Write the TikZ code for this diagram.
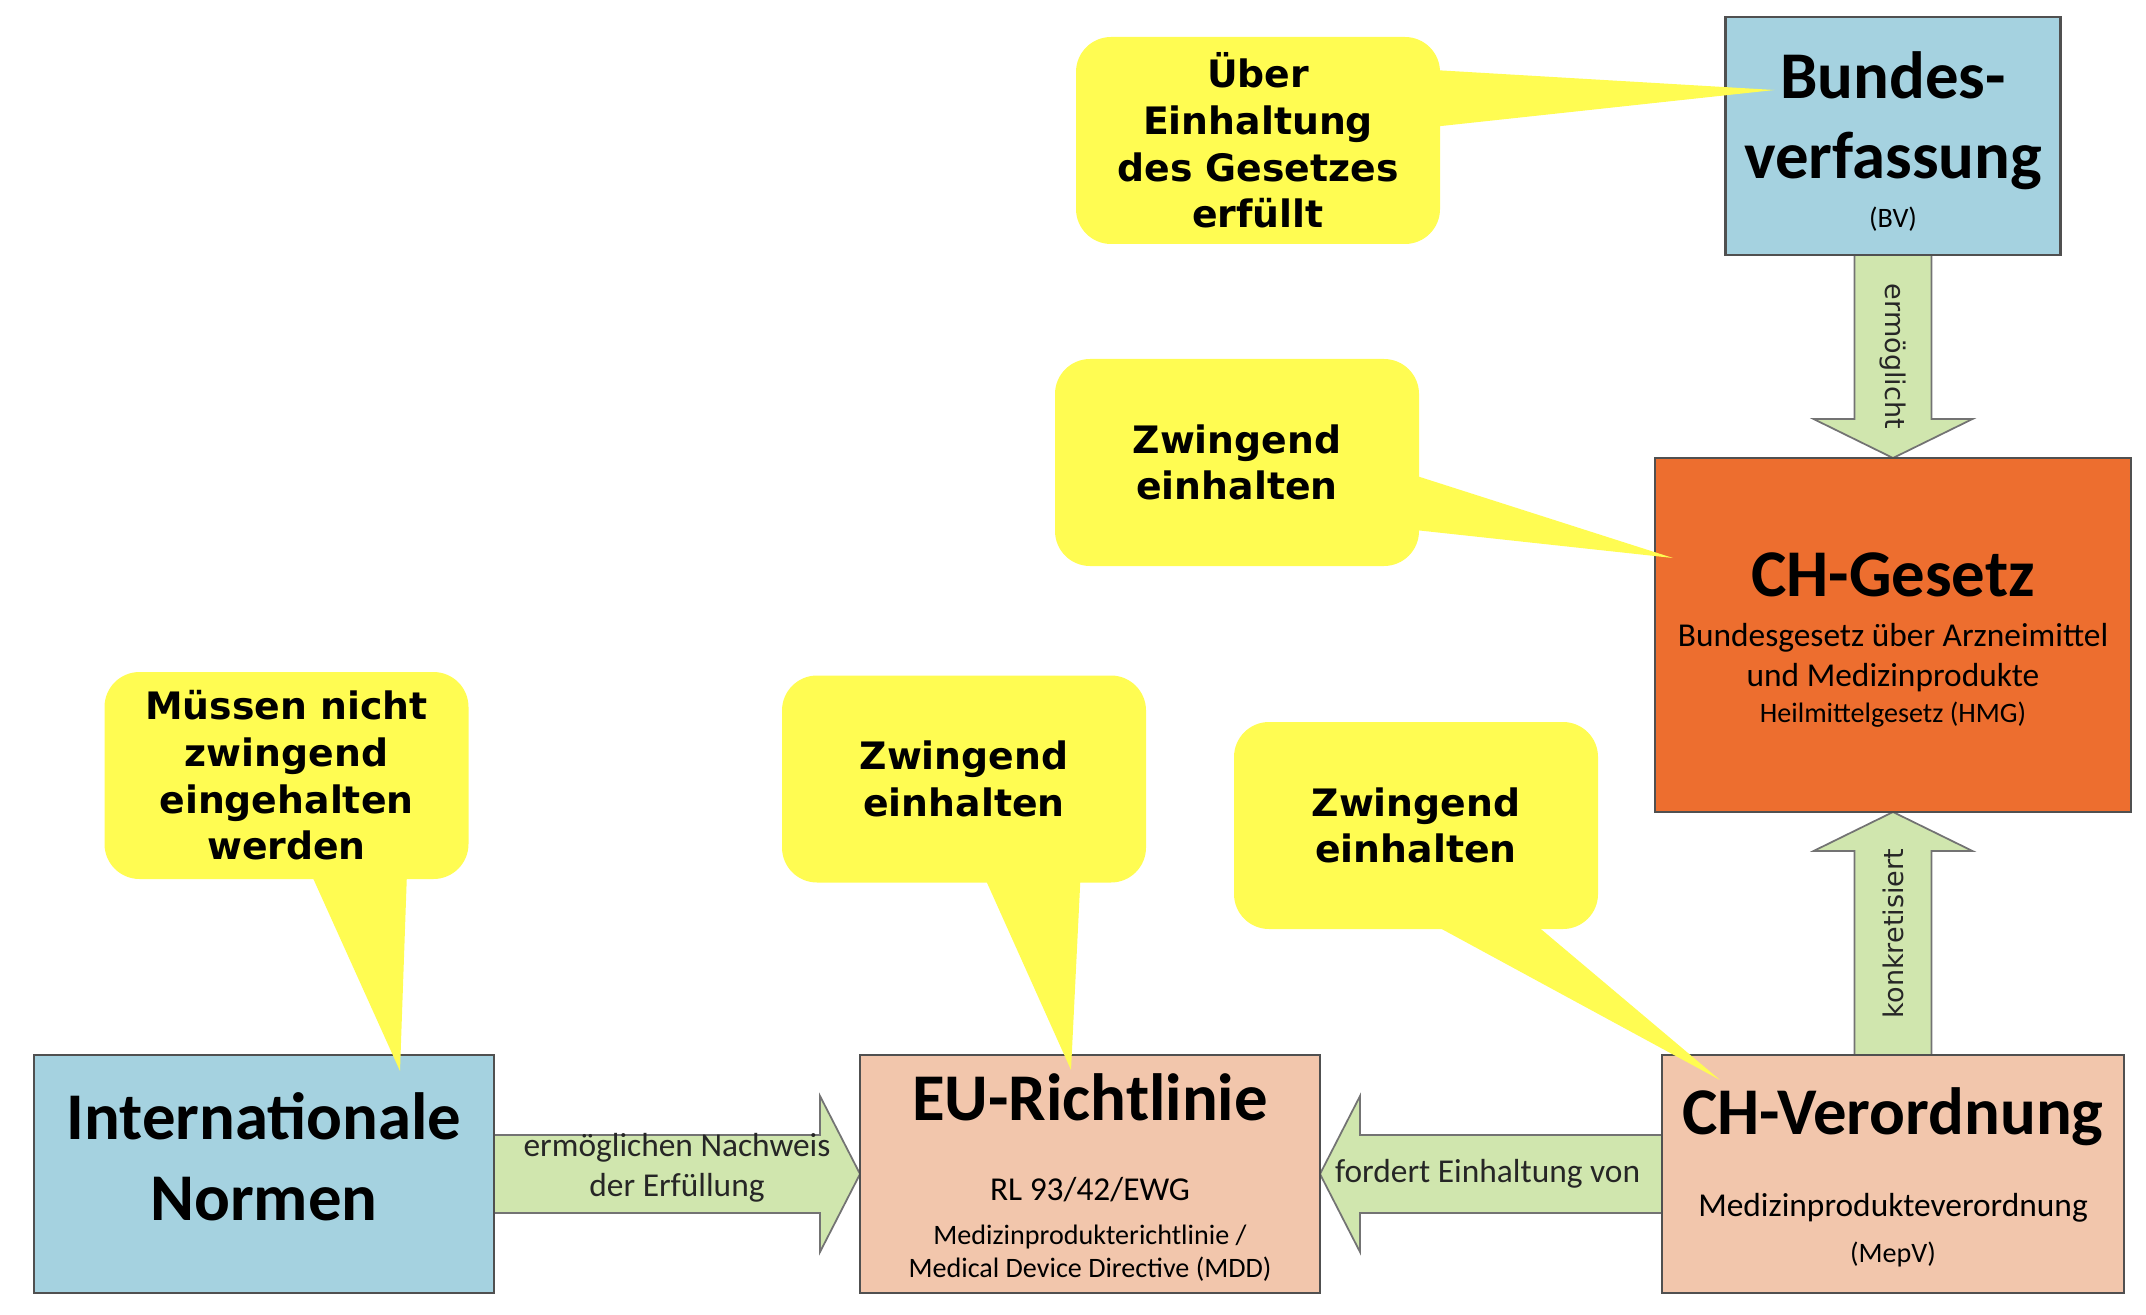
\documentclass[tikz,border=0pt]{standalone}
\usepackage{fontspec}
\setmainfont{Carlito}
\newfontfamily\bubblefont{DejaVu Sans}
\usetikzlibrary{positioning, calc, backgrounds}
\definecolor{normblue}{RGB}{165,210,224}
\definecolor{lawred}{RGB}{237,110,47}
\definecolor{rulepeach}{RGB}{242,198,172}
\definecolor{arrowgreen}{RGB}{208,230,174}
\definecolor{arrowline}{RGB}{115,115,115}
\definecolor{bubbleyellow}{RGB}{255,252,82}
\definecolor{framegray}{RGB}{80,80,80}
\newcommand{\tightlines}{\fontsize{8}{0}\selectfont\lineskiplimit=-100pt\relax}
\newcommand{\normtitle}{\fontsize{19}{23}\selectfont\bfseries}
\newcommand{\normsub}{\fontsize{9.5}{11.3}\selectfont\mdseries}
\newcommand{\normsmall}{\fontsize{8}{10.2}\selectfont\mdseries}
\newcommand{\linetop}[1][20pt]{\rule{0pt}{#1}}
\newcommand{\linebottom}[1]{\rule[-#1]{0pt}{0pt}}
\tikzstyle{box} = [draw=framegray, line width=0.8pt, rectangle, outer sep=0pt, inner sep=0pt, align=center, font=\tightlines]
\tikzstyle{bubble} = [fill=bubbleyellow, rectangle, rounded corners=0.35cm, minimum width=3.64cm, minimum height=2.07cm, align=center, font=\bubblefont\bfseries\fontsize{10.75}{13.3}\selectfont]
\tikzstyle{pointer} = [fill=bubbleyellow]
\tikzstyle{bigarrow} = [draw=arrowline, fill=arrowgreen, line width=0.5pt]
\tikzstyle{arrowtext} = [font=\fontsize{9.5}{11.3}\selectfont, text=black!85, align=center]
\tikzstyle{sidetext} = [font=\bubblefont\fontsize{7.7}{9}\selectfont, text=black!85]

\begin{document}
\begin{tikzpicture}
	\useasboundingbox (0,0) rectangle (21.46,-13.14);
	\node [box, fill=normblue, minimum width=3.35cm, minimum height=2.38cm] (bv) at (18.93,-1.36) {\linetop\normtitle Bundes-\\[23pt] \normtitle verfassung\\[13.7pt] \normsmall (BV)\linebottom{4.9pt}};
	\node [box, fill=lawred, minimum width=4.76cm, minimum height=3.54cm, below=2.03cm of bv] (chg) {\linetop\normtitle CH-Gesetz\\[14.2pt] \normsub Bundesgesetz über Arzneimittel\\[11.4pt] \normsub und Medizinprodukte\\[10.2pt] \normsmall Heilmittelgesetz (HMG)\linebottom{6.1pt}};
	\node [box, fill=rulepeach, minimum width=4.62cm, minimum height=2.38cm, below=2.43cm of chg] (chv) {\linetop\normtitle CH-Verordnung\\[23.3pt] \normsub Medizinprodukteverordnung\\[13.1pt] \normsmall (MepV)\linebottom{6.3pt}};
	\node [box, fill=rulepeach, minimum width=4.6cm, minimum height=2.38cm, left=3.42cm of chv] (eu) {\linetop[16pt]\normtitle EU-Richtlinie\\[23pt] \normsub RL 93/42/EWG\\[12.5pt] \normsmall Medizinprodukterichtlinie /\\[9.4pt] \normsmall Medical Device Directive (MDD)\linebottom{1.8pt}};
	\node [box, fill=normblue, minimum width=4.6cm, minimum height=2.38cm, left=3.66cm of eu] (int) {\linetop\normtitle Internationale\\[22.8pt] \normtitle Normen\linebottom{16.6pt}};
	
	\begin{scope}[on background layer]
		\path [bigarrow] ($(bv.south)+(-0.385,0)$) -- ($(chg.north)+(-0.385,0.39)$) -- ($(chg.north)+(-0.795,0.39)$) -- (chg.north) -- ($(chg.north)+(0.795,0.39)$) -- ($(chg.north)+(0.385,0.39)$) -- ($(bv.south)+(0.385,0)$) -- cycle;
		\path [bigarrow] ($(chv.north)+(-0.385,0)$) -- ($(chg.south)+(-0.385,-0.39)$) -- ($(chg.south)+(-0.795,-0.39)$) -- (chg.south) -- ($(chg.south)+(0.795,-0.39)$) -- ($(chg.south)+(0.385,-0.39)$) -- ($(chv.north)+(0.385,0)$) -- cycle;
		\path [bigarrow] ($(chv.west)+(0,0.39)$) -- ($(eu.east)+(0.4,0.39)$) -- ($(eu.east)+(0.4,0.78)$) -- (eu.east) -- ($(eu.east)+(0.4,-0.78)$) -- ($(eu.east)+(0.4,-0.39)$) -- ($(chv.west)+(0,-0.39)$) -- cycle;
		\path [bigarrow] ($(int.east)+(0,0.39)$) -- ($(eu.west)+(-0.4,0.39)$) -- ($(eu.west)+(-0.4,0.78)$) -- (eu.west) -- ($(eu.west)+(-0.4,-0.78)$) -- ($(eu.west)+(-0.4,-0.39)$) -- ($(int.east)+(0,-0.39)$) -- cycle;
	\end{scope}
	
	\node [sidetext, rotate=-90] (enables) at ($(bv.south)!0.5!(chg.north)$) {ermöglicht};
	\node [sidetext, rotate=90] (specifies) at ($(chv.north)!0.5!(chg.south)$) {konkretisiert};
	\node [arrowtext] (demands) at ($(eu.east)!0.49!(chv.west)$) {fordert Einhaltung von};
	\node [arrowtext, yshift=0.06cm] (proves) at ($(int.east)!0.5!(eu.west)$) {ermöglichen Nachweis\\ der Erfüllung};
	
	\node [bubble] (c1) at (12.58,-1.405) {Über\\ Einhaltung\\ des Gesetzes\\ erfüllt};
	\node [bubble] (c2) at (12.37,-4.625) {Zwingend\\ einhalten};
	\node [bubble] (c3) at (2.865,-7.755) {Müssen nicht\\ zwingend\\ eingehalten\\ werden};
	\node [bubble] (c4) at (9.64,-7.79) {Zwingend\\ einhalten};
	\node [bubble] (c5) at (14.16,-8.255) {Zwingend\\ einhalten};
	
	\path [pointer] ($(c1.north east)+(-0.02,-0.34)$) -- ($(bv.north west)+(0.49,-0.73)$) -- ($(c1.north east)+(-0.02,-0.9)$) -- cycle;
	\path [pointer] ($(c2.north east)+(-0.02,-1.18)$) -- ($(chg.north west)+(0.18,-1.0)$) -- ($(c2.north east)+(-0.02,-1.72)$) -- cycle;
	\path [pointer] ($(c3.south west)+(2.09,0.02)$) -- ($(int.north west)+(3.66,-0.16)$) -- ($(c3.south west)+(3.03,0.02)$) -- cycle;
	\path [pointer] ($(c4.south west)+(2.05,0.02)$) -- ($(eu.north west)+(2.11,-0.15)$) -- ($(c4.south west)+(2.99,0.02)$) -- cycle;
	\path [pointer] ($(c5.south west)+(2.06,0.02)$) -- ($(chv.north west)+(0.58,-0.25)$) -- ($(c5.south west)+(3.06,0.02)$) -- cycle;
\end{tikzpicture}
\end{document}
